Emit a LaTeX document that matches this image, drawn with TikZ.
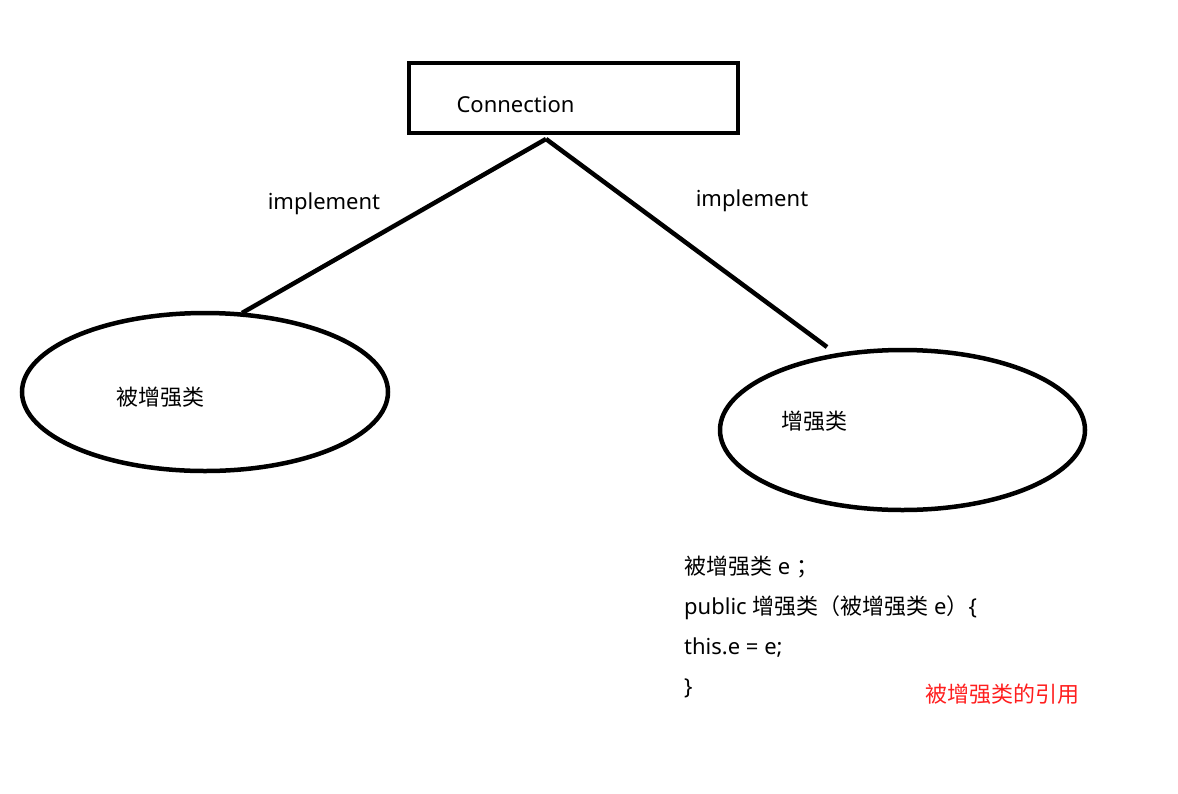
\documentclass[tikz,border=0pt]{standalone}
\usepackage{fontspec}
\setmainfont{Noto Sans}
\newfontfamily\cjk{Noto Sans CJK SC}
\usetikzlibrary{shapes}
\usetikzlibrary{shapes.geometric}
\pgfdeclarelayer{edgelayer}
\pgfdeclarelayer{nodelayer}
\pgfsetlayers{edgelayer,nodelayer,main}
\tikzstyle{none}=[inner sep=0pt]
\tikzstyle{box}=[rectangle, draw, line width=4.5pt, inner sep=0pt]
\tikzstyle{cls}=[ellipse, draw, line width=4.5pt, inner sep=0pt]
\definecolor{red}{rgb}{1,0.12,0.12}

\begin{document}
\begin{tikzpicture}[x=1pt, y=-1pt, font=\fontsize{22}{26}\selectfont]
    \useasboundingbox (0,0) rectangle (1178,793);
    \begin{pgfonlayer}{nodelayer}
	\node [style=box, minimum width=329pt, minimum height=70pt, label={[shift={(-58pt,-6pt)}]center:Connection}] (0) at (573.5, 98) {};
	\node [style=cls, minimum width=366pt, minimum height=158pt, label={[shift={(-45pt,-5pt)}]center:{\cjk 被增强类}}] (1) at (205, 392) {};
	\node [style=cls, minimum width=365pt, minimum height=160pt, label={[shift={(-88pt,9pt)}]center:{\cjk 增强类}}] (2) at (902.5, 430) {};
	\node [style=none] (3) at (546, 139) {};
	\node [style=none] (4) at (242, 313) {};
	\node [style=none] (5) at (827, 347) {};
	\node [style=none] (6) at (324, 204) {implement};
	\node [style=none] (7) at (752, 201) {implement};
	\node [style=none, anchor=north west, align=left, font=\fontsize{22}{40}\selectfont] (8) at (684, 556) {{\cjk 被增强类} e {\cjk ；}\\public {\cjk 增强类（被增强类} e{\cjk ）}\{\\this.e = e;\\\}};
	\node [style=none, color=red] (9) at (1002, 694) {\cjk 被增强类的引用};
    \end{pgfonlayer}
    \begin{pgfonlayer}{edgelayer}
	\draw [line width=4.5pt] (3.center) to (4.center);
	\draw [line width=4.5pt] (3.center) to (5.center);
    \end{pgfonlayer}
\end{tikzpicture}
\end{document}
